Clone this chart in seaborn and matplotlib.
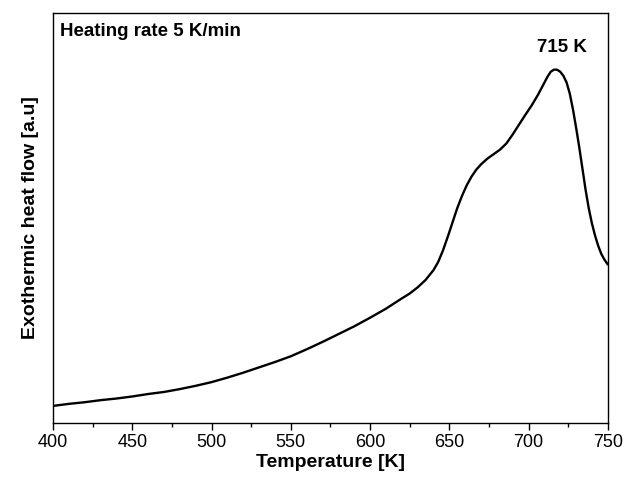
import matplotlib
matplotlib.use("Agg")
import matplotlib.pyplot as plt
from matplotlib.ticker import MultipleLocator
import seaborn as sns
import pandas as pd

# DSC scan, heating rate 5 K/min
temperature = [400, 410, 420, 430, 440, 450, 460, 470, 480, 490, 500, 510, 520, 530,
               540, 550, 560, 570, 580, 590, 600, 610, 620, 625, 630, 635, 640, 643,
               646, 649, 652, 655, 658, 661, 664, 667, 670, 674, 678, 682, 686, 690,
               694, 698, 702, 706, 709, 712, 714, 716, 718, 720, 722, 724, 726, 728,
               730, 732, 734, 736, 738, 740, 742, 744, 746, 748, 750]
heat_flow = [4.1, 4.6, 5.0, 5.5, 5.9, 6.4, 7.0, 7.5, 8.2, 9.0, 9.9, 11.0, 12.2, 13.5,
             14.8, 16.2, 17.9, 19.7, 21.6, 23.5, 25.6, 27.8, 30.3, 31.5, 33.0, 34.8, 37.2, 39.2,
             42.0, 45.3, 48.8, 52.3, 55.3, 57.9, 60.0, 61.7, 63.0, 64.4, 65.5, 66.6, 68.1, 70.3,
             72.7, 75.1, 77.4, 80.0, 82.2, 84.4, 85.6, 86.1, 86.1, 85.6, 84.6, 83.0, 80.3, 76.5,
             72.0, 67.2, 62.0, 56.8, 52.3, 48.6, 45.6, 43.1, 41.1, 39.7, 38.6]
x_ticks = [400, 450, 500, 550, 600, 650, 700, 750]
peak_label = "715 K"
note = "Heating rate 5 K/min"

sns.set_theme(style="white")
plt.rcParams["font.family"] = ["Liberation Sans", "DejaVu Sans"]
plt.rcParams["text.color"] = "black"
plt.rcParams["axes.labelcolor"] = "black"
plt.rcParams["xtick.color"] = "black"

df = pd.DataFrame({"T": temperature, "Q": heat_flow})

fig = plt.figure(figsize=(6.24, 4.79), dpi=100)
ax = fig.add_axes([0.085, 0.1175, 0.889, 0.856])

sns.lineplot(data=df, x="T", y="Q", ax=ax, color="black", linewidth=1.7,
             solid_joinstyle="round", solid_capstyle="round")

ax.set_xlim(400, 750)
ax.set_ylim(0, 100)
ax.set_xticks(x_ticks)
ax.xaxis.set_minor_locator(MultipleLocator(25))
ax.set_yticks([])
ax.tick_params(axis="x", which="major", direction="out", length=5, width=1,
               color="black", labelcolor="black", labelsize=13, pad=3, bottom=True)
ax.tick_params(axis="x", which="minor", direction="out", length=3, width=1,
               color="black", bottom=True)
for s in ax.spines.values():
    s.set_color("black")
    s.set_linewidth(1.0)

ax.set_xlabel("Temperature [K]", fontsize=14, fontweight="bold", labelpad=2,
              color="black")
ax.set_ylabel("Exothermic heat flow [a.u]", fontsize=14, fontweight="bold",
              labelpad=10, color="black")

ax.text(0.013, 0.955, note, transform=ax.transAxes, fontsize=13.5,
        fontweight="bold", ha="left", va="center", color="black")
ax.text(721, 91.5, peak_label, fontsize=13.5, fontweight="bold",
        ha="center", va="center", color="black")

fig.savefig("out.png", dpi=100)
